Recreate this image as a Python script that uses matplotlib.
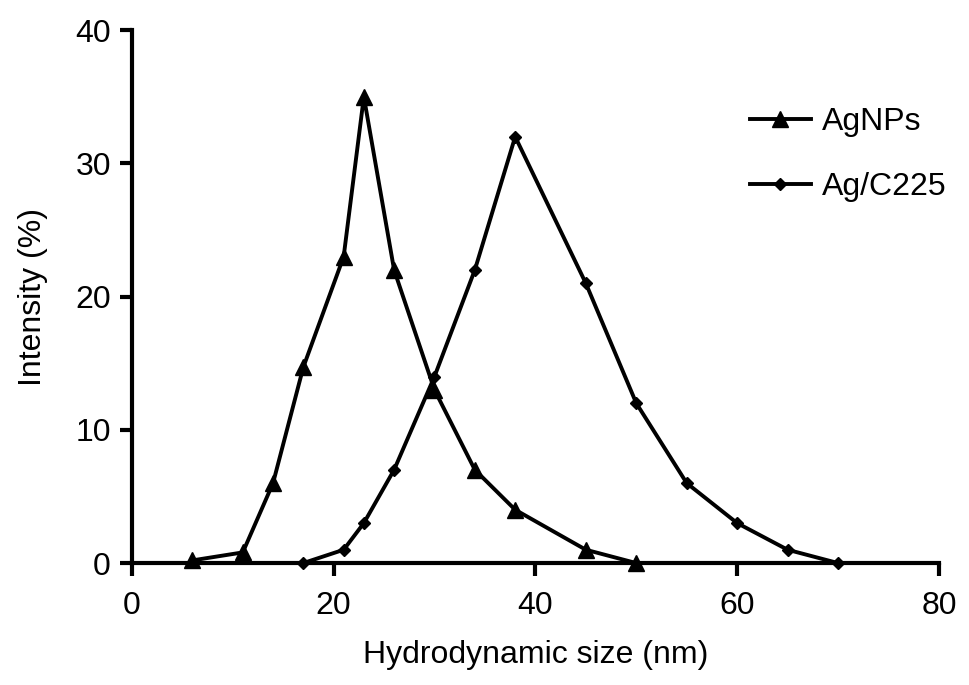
import matplotlib.pyplot as plt

# hydrodynamic size (nm) vs intensity (%)
agnp_size = [6, 11, 14, 17, 21, 23, 26, 30, 34, 38, 45, 50]
agnp_int = [0.2, 0.8, 6, 14.7, 23, 35, 22, 13, 7, 4, 1, 0]

c225_size = [17, 21, 23, 26, 30, 34, 38, 45, 50, 55, 60, 65, 70]
c225_int = [0, 1, 3, 7, 14, 22, 32, 21, 12, 6, 3, 1, 0]

plt.rcParams['font.family'] = ['Liberation Sans', 'DejaVu Sans']

fig = plt.figure(figsize=(9.69, 6.85), dpi=100)
ax = fig.add_axes([0.136, 0.178, 0.833, 0.778])

ax.plot(agnp_size, agnp_int, color='black', lw=2.8, marker='^', ms=12,
        label='AgNPs', clip_on=False, zorder=3)
ax.plot(c225_size, c225_int, color='black', lw=2.8, marker='D', ms=6.5,
        label='Ag/C225', clip_on=False, zorder=3)

ax.set_xlim(0, 80)
ax.set_ylim(0, 40)
ax.set_xticks([0, 20, 40, 60, 80])
ax.set_yticks([0, 10, 20, 30, 40])

for s in ['top', 'right']:
    ax.spines[s].set_visible(False)
for s in ['left', 'bottom']:
    ax.spines[s].set_linewidth(3)
ax.tick_params(direction='out', length=9, width=3, labelsize=23, pad=6)
ax.tick_params(axis='x', pad=11)

ax.set_xlabel('Hydrodynamic size (nm)', fontsize=23, labelpad=14)
ax.set_ylabel('Intensity (%)', fontsize=23, labelpad=20)

ax.legend(loc='upper right', bbox_to_anchor=(1.045, 0.91), frameon=False,
          fontsize=23, handlelength=1.9, labelspacing=1.1, handletextpad=0.35)

fig.savefig('out.png', dpi=100)
